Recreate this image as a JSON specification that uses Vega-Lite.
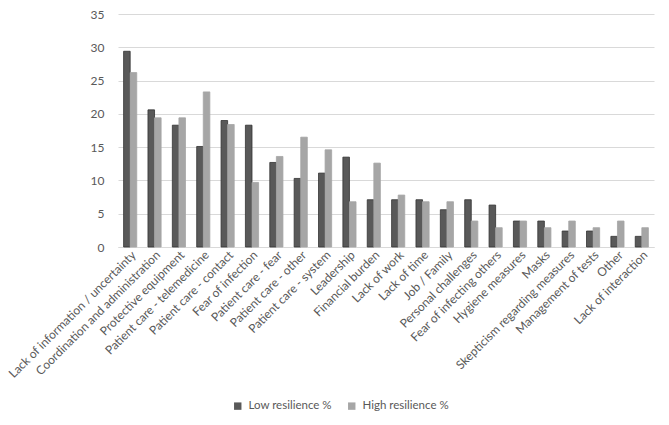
{
  "$schema": "https://vega.github.io/schema/vega-lite/v6.json",
  "width": 536,
  "height": 233,
  "autosize": {"type": "none"},
  "padding": {"left": 118, "top": 14, "right": 15, "bottom": 178},
  "background": "white",
  "config": {
    "view": {"stroke": null},
    "font": "Lato",
    "axis": {"labelFont": "Lato", "labelColor": "#595959", "labelFontSize": 12},
    "legend": {"labelFont": "Lato", "labelColor": "#595959", "labelFontSize": 11.5}
  },
  "data": {
    "values": [
      {"cat": "Lack of information / uncertainty", "series": "Low resilience %", "v": 29.4},
      {"cat": "Lack of information / uncertainty", "series": "High resilience %", "v": 26.2},
      {"cat": "Coordination and administration", "series": "Low resilience %", "v": 20.6},
      {"cat": "Coordination and administration", "series": "High resilience %", "v": 19.4},
      {"cat": "Protective equipment", "series": "Low resilience %", "v": 18.3},
      {"cat": "Protective equipment", "series": "High resilience %", "v": 19.4},
      {"cat": "Patient care - telemedicine", "series": "Low resilience %", "v": 15.1},
      {"cat": "Patient care - telemedicine", "series": "High resilience %", "v": 23.3},
      {"cat": "Patient care - contact", "series": "Low resilience %", "v": 19.0},
      {"cat": "Patient care - contact", "series": "High resilience %", "v": 18.4},
      {"cat": "Fear of infection", "series": "Low resilience %", "v": 18.3},
      {"cat": "Fear of infection", "series": "High resilience %", "v": 9.7},
      {"cat": "Patient care - fear", "series": "Low resilience %", "v": 12.7},
      {"cat": "Patient care - fear", "series": "High resilience %", "v": 13.6},
      {"cat": "Patient care - other", "series": "Low resilience %", "v": 10.3},
      {"cat": "Patient care - other", "series": "High resilience %", "v": 16.5},
      {"cat": "Patient care - system", "series": "Low resilience %", "v": 11.1},
      {"cat": "Patient care - system", "series": "High resilience %", "v": 14.6},
      {"cat": "Leadership", "series": "Low resilience %", "v": 13.5},
      {"cat": "Leadership", "series": "High resilience %", "v": 6.8},
      {"cat": "Financial burden", "series": "Low resilience %", "v": 7.1},
      {"cat": "Financial burden", "series": "High resilience %", "v": 12.6},
      {"cat": "Lack of work", "series": "Low resilience %", "v": 7.1},
      {"cat": "Lack of work", "series": "High resilience %", "v": 7.8},
      {"cat": "Lack of time", "series": "Low resilience %", "v": 7.1},
      {"cat": "Lack of time", "series": "High resilience %", "v": 6.8},
      {"cat": "Job / Family", "series": "Low resilience %", "v": 5.6},
      {"cat": "Job / Family", "series": "High resilience %", "v": 6.8},
      {"cat": "Personal challenges", "series": "Low resilience %", "v": 7.1},
      {"cat": "Personal challenges", "series": "High resilience %", "v": 3.9},
      {"cat": "Fear of infecting others", "series": "Low resilience %", "v": 6.3},
      {"cat": "Fear of infecting others", "series": "High resilience %", "v": 2.9},
      {"cat": "Hygiene measures", "series": "Low resilience %", "v": 3.9},
      {"cat": "Hygiene measures", "series": "High resilience %", "v": 3.9},
      {"cat": "Masks", "series": "Low resilience %", "v": 3.9},
      {"cat": "Masks", "series": "High resilience %", "v": 2.9},
      {"cat": "Skepticism regarding measures", "series": "Low resilience %", "v": 2.4},
      {"cat": "Skepticism regarding measures", "series": "High resilience %", "v": 3.9},
      {"cat": "Management of tests", "series": "Low resilience %", "v": 2.4},
      {"cat": "Management of tests", "series": "High resilience %", "v": 2.9},
      {"cat": "Other", "series": "Low resilience %", "v": 1.6},
      {"cat": "Other", "series": "High resilience %", "v": 3.9},
      {"cat": "Lack of interaction", "series": "Low resilience %", "v": 1.6},
      {"cat": "Lack of interaction", "series": "High resilience %", "v": 2.9}
    ]
  },
  "mark": {"type": "bar", "strokeWidth": 0.8},
  "encoding": {
    "x": {
      "field": "cat", "type": "nominal", "sort": null, "title": null,
      "scale": {"paddingInner": 0.46, "paddingOuter": 0.23},
      "axis": {"labelAngle": -45, "labelAlign": "right", "labelBaseline": "top", "ticks": false, "domainColor": "#d9d9d9", "labelPadding": 2, "labelLimit": 300}
    },
    "xOffset": {"field": "series", "type": "nominal", "sort": ["Low resilience %", "High resilience %"]},
    "y": {
      "field": "v", "type": "quantitative", "title": null,
      "scale": {"domain": [0, 35], "nice": false},
      "axis": {"values": [0, 5, 10, 15, 20, 25, 30, 35], "domain": false, "ticks": false, "gridColor": "#d9d9d9", "labelPadding": 14}
    },
    "color": {
      "field": "series", "type": "nominal", "title": null,
      "sort": ["Low resilience %", "High resilience %"],
      "scale": {"domain": ["Low resilience %", "High resilience %"], "range": ["#595959", "#a6a6a6"]},
      "legend": {"orient": "none", "direction": "horizontal", "legendX": 114, "legendY": 386, "symbolType": "square", "symbolSize": 55, "symbolStrokeWidth": 0, "columnPadding": 14, "labelOffset": 5}
    },
    "stroke": {
      "field": "series", "type": "nominal", "legend": null,
      "scale": {"domain": ["Low resilience %", "High resilience %"], "range": ["#333333", "#a6a6a6"]}
    }
  }
}
